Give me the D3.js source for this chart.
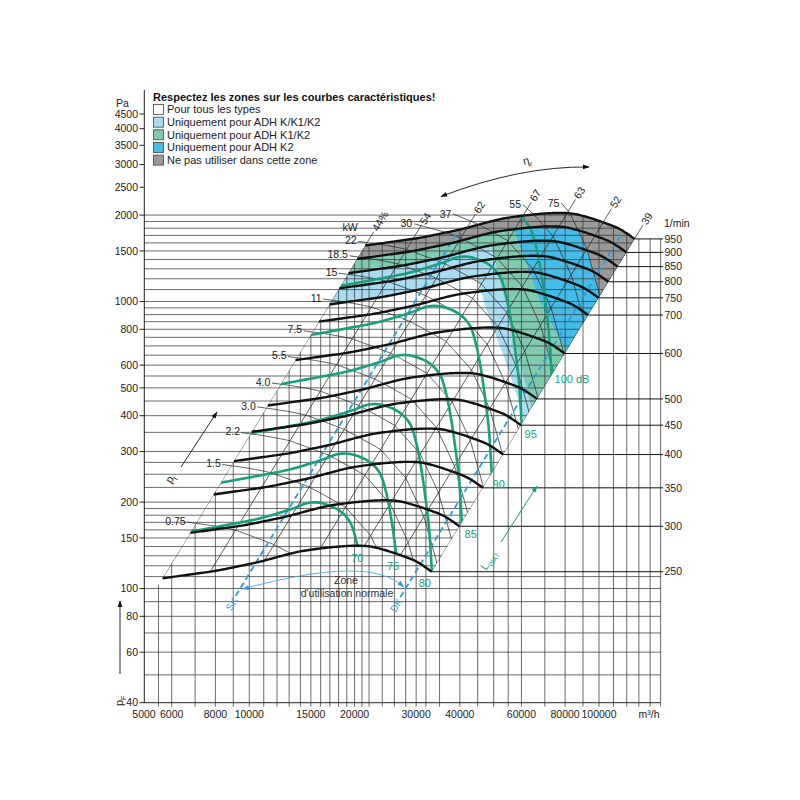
<!DOCTYPE html>
<html><head><meta charset="utf-8">
<script src="https://cdn.jsdelivr.net/npm/d3@7"></script>
<style>body{margin:0;background:#fff} svg{font-family:"Liberation Sans",Arial,Helvetica,sans-serif}</style>
</head><body><svg id="c" width="800" height="800"></svg>
<script>
// ---------------- DATA ----------------
const baseRpm = 250;
const baseQ = [5650,6770,8070,9410,10730,12490,13960,15930,18180,20200,22150,24130,26980,30110,33240];
const baseP = [108.5,111.9,115.4,119.8,124.0,130.3,134.6,137.8,140.1,140.9,140.1,136.7,130.8,124.0,114.4];
const rpmCurves = [250,300,350,400,450,500,600,700,750,800,850,900,950];
const effRayQ = [5650,7735,11040,15960,21330,27040,33240];
const effValues = [44,54,62,67,63,52,39];
const effLabels = ["44%","54","62","67","63","52","39"];
const powerKW = [0.75,1.5,2.2,3.0,4.0,5.5,7.5,11,15,18.5,22,30,37,55,75];
const powerLabels = ["0.75","1.5","2.2","3.0","4.0","5.5","7.5","11","15","18.5","22","30","37","55","75"];
const db70Q = [6337,6768,8618,10734,13366,14600,15590,16650,18180,19410,20195,20870,21425,21995,22435,22740];
const db70P = [155.5,157.7,166.4,175.6,190.3,198.1,199.4,196.1,186.2,170.5,147.6,120.8,97.2,74.6,52.0,40.9];
const dbLevels = [70,75,80,85,90,95,100];
const dbStartRpm = [300,365,445,542,660,804,979];
const skQ = 10450, dkQ = 30880;
const zoneRpmLB = 750, zoneRpmGreen = 850, zoneRpmGray = 900, zoneKWGray = 75;
const zoneLB = [[41660,1832],[45090,1188],[48800,862],[53870,625.5],[58710,453.6],[61460,371]];
const zoneGreen = [[47840,1803],[52100,1188],[56400,795.6],[60220,577.2],[64340,418.8]];
const zoneK2 = [[56060,1892],[61460,1395],[67830,1012],[74850,795.6],[81570,650.8]];
const pTicks = [4500,4000,3500,3000,2500,2000,1500,1000,800,600,500,400,300,200,150,100,80,60,40];
const pGrid = [2000,1900,1800,1700,1600,1500,1400,1300,1200,1100,1000,950,900,850,800,750,700,650,600,550,500,450,400,350,300,275,250,225,200,190,180,170,160,150,140,130,120,110,100,90,80,70,60,50];
const qTicks = [5000,6000,8000,10000,15000,20000,30000,40000,60000,80000,100000];
const qGrid = [5500,6000,7000,8000,9000,10000,11000,12000,13000,14000,15000,16000,17000,18000,19000,20000,21000,22000,24000,26000,28000,30000,32000,35000,40000,45000,50000,55000,60000,70000,80000,90000,100000,110000,120000,130000,140000,150000];
const rpmTicks = [250,300,350,400,450,500,600,700,750,800,850,900,950];
const legendItems = ["Pour tous les types","Uniquement pour ADH K/K1/K2","Uniquement pour ADH K1/K2","Uniquement pour ADH K2","Ne pas utiliser dans cette zone"];

// ---------------- STYLE ----------------
const C = {lb:"#a9dcf1", green:"#80cab0", k2:"#45bce8", gray:"#999999", grid:"#3a3a3a", dbGreen:"#17a07e", blue:"#2f9bd8", text:"#222"};
const legendColors = ["#ffffff", C.lb, C.green, C.k2, C.gray];

const svg = d3.select("#c");
const x = d3.scaleLog().domain([5000,150000]).range([144,660.6]);
const y = d3.scaleLog().domain([40,4500]).range([702.7,114]);
const P = d => [x(d[0]), y(d[1])];
const aff = (d, r) => [d[0]*r, d[1]*r*r];
const lineLin = d3.line();

function densify(pts, n){
  const path = svg.append("path").attr("d", d3.line().curve(d3.curveCatmullRom.alpha(0.5))(pts)).attr("fill","none");
  const node = path.node(), L = node.getTotalLength();
  const out = d3.range(n+1).map(i => { const p = node.getPointAtLength(L*i/n); return [p.x,p.y]; });
  path.remove();
  return out;
}
const baseD = densify(baseQ.map((q,i)=>P([q,baseP[i]])), 160).map(([a,b])=>[x.invert(a), y.invert(b)]);
const curvePix = n => baseD.map(d => P(aff(d, n/baseRpm)));
const c250 = curvePix(250), c950 = curvePix(950);
const band = c250.concat(c950.slice().reverse());

const effScale = d3.scaleLog().domain(effRayQ).range(effValues).clamp(true);
const P0 = baseD.map(d => d[0]/3600 * d[1] / (effScale(d[0])/100) / 1000);
const powerPix = kw => baseD.map((d,i) => P(aff(d, Math.cbrt(kw/P0[i]))));
const baseAtQ = q => { const i = d3.bisector(d=>d[0]).left(baseD, q); const a = baseD[Math.max(0,i-1)], b = baseD[Math.min(baseD.length-1,i)];
  if (a===b) return a; const t=(Math.log(q)-Math.log(a[0]))/(Math.log(b[0])-Math.log(a[0])); return [q, a[1]+(b[1]-a[1])*t]; };

// ---------------- CLIP PATHS ----------------
const defs = svg.append("defs");
defs.append("clipPath").attr("id","band").append("path").attr("d", lineLin(band)+"Z");
const s0=c250[0], s1=c950[0], e0=c250[c250.length-1], e1=c950[c950.length-1];
const yLeft144 = s0[1] + (144-s0[0])*(s1[1]-s0[1])/(s1[0]-s0[0]);
const vclip = [[144,yLeft144]].concat(c950).concat([[662,e1[1]],[662,712],[144,712]]);
defs.append("clipPath").attr("id","vclip").append("path").attr("d", lineLin(vclip)+"Z");
let pk = d3.minIndex(c950, d=>d[1]);
const hclip = [[144,200],[c950[pk][0],200]].concat(c950.slice(pk)).concat([[e0[0],e0[1]+0.5],[661,e0[1]+0.5],[661,712],[144,712]]);
defs.append("clipPath").attr("id","hclip").append("path").attr("d", lineLin(hclip)+"Z");
const mk = (id,color) => defs.append("marker").attr("id",id).attr("viewBox","0 0 10 10").attr("refX",9).attr("refY",5)
  .attr("markerWidth",7).attr("markerHeight",7).attr("orient","auto-start-reverse").attr("markerUnits","userSpaceOnUse")
  .append("path").attr("d","M0,1.5L10,5L0,8.5Z").attr("fill",color);
mk("arrK","#111"); mk("arrB",C.blue); mk("arrG",C.dbGreen);

// ---------------- ZONES ----------------
const gz = svg.append("g").attr("clip-path","url(#band)");
const aboveRpm = n => { const c = curvePix(n); const e=c[c.length-1]; return c.concat([[800,e[1]],[800,-100],[c[0][0],-100]]); };
const rightOf = pts => { const f=pts[0], l=pts[pts.length-1]; return [[f[0],-100]].concat(pts).concat([[800,l[1]],[800,-100]]); };
const zonePoly = (poly, color) => gz.append("path").attr("d", lineLin(poly)+"Z").attr("fill", color);
zonePoly(aboveRpm(zoneRpmLB), C.lb);
zonePoly(rightOf(densify(zoneLB.map(P),60)), C.lb);
zonePoly(aboveRpm(zoneRpmGreen), C.green);
zonePoly(rightOf(densify(zoneGreen.map(P),60)), C.green);
zonePoly(rightOf(densify(zoneK2.map(P),60)), C.k2);
zonePoly(aboveRpm(zoneRpmGray), C.gray);
zonePoly(rightOf(powerPix(zoneKWGray)), C.gray);

// ---------------- GRID ----------------
const gg = svg.append("g").attr("stroke",C.grid).attr("stroke-width",0.75);
gg.append("g").attr("clip-path","url(#vclip)").selectAll("line").data(qGrid).join("line")
  .attr("x1",d=>x(d)).attr("x2",d=>x(d)).attr("y1",100).attr("y2",y(40));
gg.append("g").attr("clip-path","url(#hclip)").selectAll("line").data(pGrid).join("line")
  .attr("x1",144).attr("x2",700).attr("y1",d=>y(d)).attr("y2",d=>y(d));
gg.selectAll("line.bt").data(qGrid).join("line").attr("class","bt").attr("x1",d=>x(d)).attr("x2",d=>x(d)).attr("y1",y(40)).attr("y2",y(40)+4);
svg.append("g").attr("stroke","#111").attr("stroke-width",1).selectAll("line").data(rpmTicks).join("line")
  .attr("x1",n=>P(aff(baseD[baseD.length-1], n/baseRpm))[0]).attr("x2",663)
  .attr("y1",n=>P(aff(baseD[baseD.length-1], n/baseRpm))[1]).attr("y2",n=>P(aff(baseD[baseD.length-1], n/baseRpm))[1]);

// ---------------- LATTICE ----------------
const gl = svg.append("g").attr("clip-path","url(#band)").attr("fill","none").attr("stroke","#2a2a2a").attr("stroke-width",0.75);
effRayQ.forEach(q => { const b = baseAtQ(q); gl.append("path").attr("d", lineLin([P(b), P(aff(b,950/baseRpm))])); });
powerKW.forEach(kw => gl.append("path").attr("d", lineLin(powerPix(kw))));

// ---------------- BLUE DASHED SK / DK ----------------
const gb = svg.append("g");
const dashLine = (q) => { const b = baseAtQ(q); return [P(aff(b,0.875)), P(aff(b,950/baseRpm))]; };
const sk = dashLine(skQ), dk = dashLine(dkQ);
[sk,dk].forEach(l => gb.append("path").attr("d",lineLin(l)).attr("stroke",C.blue).attr("stroke-width",1.8).attr("stroke-dasharray","6,3.5").attr("fill","none"));
const atY = (l, yy) => [l[0][0] + (yy-l[0][1])*(l[1][0]-l[0][0])/(l[1][1]-l[0][1]), yy];
const za = atY(sk, 589), zb = atY(dk, 587);
gb.append("path").attr("d", `M${za[0]+3},${za[1]} Q370.5,554 ${zb[0]-3},${zb[1]}`).attr("fill","none")
  .attr("stroke","#4aa9e2").attr("stroke-width",0.9).attr("marker-start","url(#arrB)").attr("marker-end","url(#arrB)");
const txt = (xx,yy,s,o={}) => svg.append("text").attr("x",xx).attr("y",yy).attr("font-size",o.fs||10.5).attr("fill",o.fill||C.text)
  .attr("text-anchor",o.anchor||"middle").attr("dy","0.35em").attr("transform",o.rot?`rotate(${o.rot},${xx},${yy})`:null).text(s);
txt(346,580.5,"Zone",{fill:"#333"}); txt(347,593.5,"d'utilisation normale",{fill:"#333"});
txt(sk[0][0]-4, sk[0][1]+8, "SK",{fill:C.blue, fs:10, rot:-58.7});
txt(dk[0][0]-4, dk[0][1]+8, "DK",{fill:C.blue, fs:10, rot:-58.7});

// ---------------- GREEN dB CURVES ----------------
const db70D = densify(db70Q.map((q,i)=>P([q,db70P[i]])), 160).map(([a,b])=>[x.invert(a),y.invert(b)]);
const gd = svg.append("g").attr("clip-path","url(#band)");
const dbOff = {70:[0,13,"middle"],75:[-3,14,"middle"],80:[-7,13,"middle"],85:[9,13,"middle"],90:[7,12,"middle"],95:[9,11,"middle"],100:[3,6,"start"]};
dbLevels.forEach((lv,i) => {
  const pts = db70D.map(d => P(aff(d, dbStartRpm[i]/dbStartRpm[0])));
  gd.append("path").attr("d", lineLin(pts)).attr("fill","none").attr("stroke",C.dbGreen).attr("stroke-width",2.6);
  let last = null; pts.forEach(p => { if (d3.polygonContains(band,p)) last = p; });
  if (last) { const o = dbOff[lv]; txt(last[0]+o[0], last[1]+o[1], lv===100? "100 dB" : String(lv), {fill:C.dbGreen, anchor:o[2], fs:11}); }
});

// ---------------- FAN CURVES ----------------
svg.append("g").selectAll("path").data(rpmCurves).join("path").attr("d", n => lineLin(curvePix(n)))
  .attr("fill","none").attr("stroke","#111").attr("stroke-width",2.4);

// ---------------- POWER LABELS ----------------
const topOff = {30:[-35,-9],37:[-28,-11],55:[-13,-10],75:[-11,-11]};
powerKW.forEach((kw,i) => {
  const pl = powerPix(kw);
  if (kw <= 22) {
    const b = pl[0], c = pl[6]; const dx=c[0]-b[0], dy=c[1]-b[1], L=Math.hypot(dx,dy);
    const a = [b[0]-9*dx/L, b[1]-9*dy/L];
    svg.append("line").attr("x1",a[0]).attr("y1",a[1]).attr("x2",b[0]).attr("y2",b[1]).attr("stroke","#2a2a2a").attr("stroke-width",0.75);
    txt(a[0]-1.5, a[1]-1, powerLabels[i], {anchor:"end"});
  } else {
    const j = baseD.findIndex((d,k) => Math.cbrt(kw/P0[k]) <= 950/baseRpm);
    const e = pl[Math.max(j,0)]; const o = topOff[kw];
    svg.append("line").attr("x1",e[0]+o[0]+2).attr("y1",e[1]+o[1]).attr("x2",e[0]).attr("y2",e[1]).attr("stroke","#2a2a2a").attr("stroke-width",0.75);
    txt(e[0]+o[0], e[1]+o[1], powerLabels[i], {anchor:"end"});
  }
});
{ const b = powerPix(22)[0]; txt(b[0]-17, b[1]-15, "kW"); }

// ---------------- EFFICIENCY LABELS ----------------
effRayQ.forEach((q,i) => {
  const b = aff(baseAtQ(q), 950/baseRpm); const t = P(b);
  const ang = Math.atan2(-574, 349.7), ux = Math.cos(ang), uy = Math.sin(ang);
  const e = [t[0]+16*ux, t[1]+16*uy];
  svg.append("line").attr("x1",t[0]).attr("y1",t[1]).attr("x2",e[0]).attr("y2",e[1]).attr("stroke","#2a2a2a").attr("stroke-width",0.75);
  txt(e[0]+2*ux, e[1]+2*uy, effLabels[i], {anchor:"start", rot: ang*180/Math.PI, fs:10.5});
});

// ---------------- AXES ----------------
const ga = svg.append("g").attr("stroke","#222").attr("stroke-width",1);
ga.append("line").attr("x1",144.3).attr("x2",144.3).attr("y1",90).attr("y2",y(40));
ga.append("line").attr("x1",144).attr("x2",660.6).attr("y1",y(40)).attr("y2",y(40));
ga.selectAll("line.lt").data(pTicks).join("line").attr("class","lt").attr("x1",139.5).attr("x2",144.3).attr("y1",d=>y(d)).attr("y2",d=>y(d));
pTicks.forEach(v => txt(138, y(v), String(v), {anchor:"end"}));
qTicks.forEach(v => txt(x(v), 714, String(v)));
txt(649, 714, "m³/h");
txt(116, 103, "Pa", {anchor:"start"});
rpmTicks.forEach(n => txt(664.5, P(aff(baseD[baseD.length-1], n/baseRpm))[1], String(n), {anchor:"start"}));
txt(664, 223, "1/min", {anchor:"start"});

// ---------------- ANNOTATION ARROWS ----------------
svg.append("path").attr("d","M441,196.5 Q520,166 589,167").attr("fill","none").attr("stroke","#111").attr("stroke-width",0.9)
  .attr("marker-start","url(#arrK)").attr("marker-end","url(#arrK)");
{ const t = svg.append("text").attr("x",528).attr("y",164).attr("font-size",11).attr("fill",C.text).attr("text-anchor","middle").attr("transform","rotate(-14,528,164)");
  t.append("tspan").text("η"); t.append("tspan").attr("font-size",7).attr("dy",3).text("r"); }
svg.append("line").attr("x1",181).attr("y1",467).attr("x2",217).attr("y2",412).attr("stroke","#111").attr("stroke-width",0.9).attr("marker-end","url(#arrK)");
{ const t = svg.append("text").attr("x",171).attr("y",484).attr("font-size",11).attr("fill",C.text).attr("transform","rotate(-57,171,484)");
  t.append("tspan").text("p"); t.append("tspan").attr("font-size",7).attr("dy",3).text("t"); }
svg.append("line").attr("x1",501).attr("y1",542).attr("x2",537).attr("y2",486).attr("stroke",C.dbGreen).attr("stroke-width",1).attr("marker-end","url(#arrG)");
{ const t = svg.append("text").attr("x",486).attr("y",571).attr("font-size",11).attr("fill",C.dbGreen).attr("transform","rotate(-57,486,571)");
  t.append("tspan").text("L"); t.append("tspan").attr("font-size",7).attr("dy",3).text("WA7"); }
svg.append("line").attr("x1",120).attr("y1",674).attr("x2",120).attr("y2",601).attr("stroke","#111").attr("stroke-width",0.9).attr("marker-end","url(#arrK)");
{ const t = svg.append("text").attr("x",123).attr("y",706).attr("font-size",11).attr("fill",C.text).attr("transform","rotate(-90,123,706)");
  t.append("tspan").text("p"); t.append("tspan").attr("font-size",7).attr("dy",3).text("F"); }

// ---------------- LEGEND ----------------
svg.append("text").attr("x",153).attr("y",101).attr("font-size",11).attr("font-weight","bold").attr("fill","#111")
  .text("Respectez les zones sur les courbes caractéristiques!");
legendItems.forEach((s,i) => {
  const cy = 109.5 + 12.65*i;
  svg.append("rect").attr("x",153.5).attr("y",cy-5).attr("width",10).attr("height",10).attr("fill",legendColors[i]).attr("stroke","#444").attr("stroke-width",0.8);
  txt(167, cy, s, {anchor:"start", fs:11});
});
</script></body></html>
